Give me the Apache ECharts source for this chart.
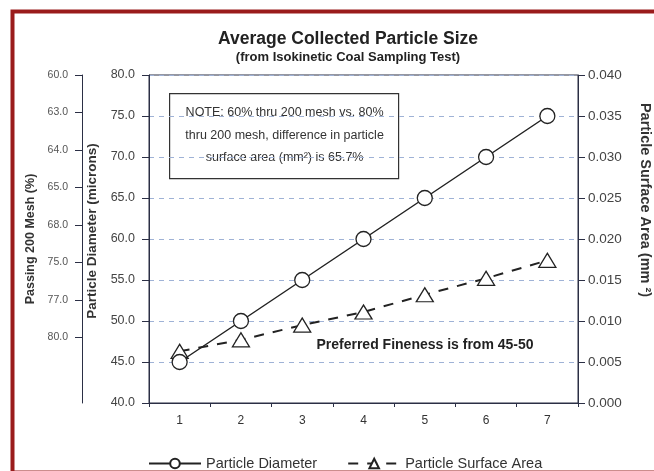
<!DOCTYPE html>
<html>
<head>
<meta charset="utf-8">
<script src="https://cdn.jsdelivr.net/npm/echarts@6/dist/echarts.min.js"></script>
<style>
html,body{margin:0;padding:0;background:#fff;}
#main{width:654px;height:471px;}
</style>
</head>
<body>
<div id="main"></div>
<script>
// x categories
var points = ['1', '2', '3', '4', '5', '6', '7'];
// particle diameter (microns)
var diameter = [45, 50, 55, 60, 65, 70, 75];
// particle surface area (mm2)
var surfaceArea = [0.0063, 0.0077, 0.0095, 0.0111, 0.0132, 0.0152, 0.0174];
// passing 200 mesh (%) tick labels, top to bottom
var meshLabels = ['60.0', '63.0', '64.0', '65.0', '68.0', '75.0', '77.0', '80.0'];
var meshIdx = meshLabels.map(function (l, i) { return i; });

var font = '"Liberation Sans", Arial, sans-serif';
var axisCol = '#2b2f45';

var chart = echarts.init(document.getElementById('main'));

var option = {
	backgroundColor: '#fff',
	animation: false,
	textStyle: { fontFamily: font },
	title: [{
		text: 'Average Collected Particle Size',
		left: 343,
		top: 25,
		textAlign: 'center',
		textStyle: { fontSize: 17.5, fontWeight: 'bold', color: '#222', fontFamily: font }
	}, {
		text: '(from Isokinetic Coal Sampling Test)',
		left: 343,
		top: 46,
		textAlign: 'center',
		textStyle: { fontSize: 13, fontWeight: 'bold', color: '#222', fontFamily: font }
	}],
	legend: {
		left: 143,
		top: 451,
		itemWidth: 52,
		itemHeight: 12,
		itemGap: 30,
		textStyle: { fontSize: 14.5, color: '#333', fontFamily: font },
		data: ['Particle Diameter', 'Particle Surface Area']
	},
	grid: {
		left: 149,
		right: 76,
		top: 75,
		bottom: 68,
		outerBoundsMode: 'none',
		containLabel: false,
		show: true,
		borderColor: axisCol,
		borderWidth: 1,
		backgroundColor: 'transparent'
	},
	xAxis: {
		type: 'category',
		data: points,
		boundaryGap: true,
		axisLine: { lineStyle: { color: axisCol, width: 1 } },
		axisTick: { show: true, length: 4, lineStyle: { color: axisCol } },
		axisLabel: { fontSize: 12, color: '#333', margin: 12 },
		splitLine: { show: false }
	},
	yAxis: [{
		type: 'value',
		position: 'left',
		min: 40,
		max: 80,
		interval: 5,
		name: 'Particle Diameter (microns)',
		nameLocation: 'middle',
		nameGap: 42,
		nameTextStyle: { fontSize: 13.5, fontWeight: 'bold', color: '#333', padding: [0, 0, 0, 16] },
		axisLine: { show: true, lineStyle: { color: axisCol } },
		axisTick: { show: true, length: 7, lineStyle: { color: axisCol } },
		axisLabel: { fontSize: 12.5, color: '#444', margin: 14, formatter: function (v) { return v.toFixed(1); } },
		splitLine: { show: true, lineStyle: { color: '#9fb2d6', type: [5, 5], width: 1 } }
	}, {
		type: 'value',
		position: 'right',
		min: 0,
		max: 0.04,
		interval: 0.005,
		name: 'Particle Surface Area (mm \u00b2)',
		nameLocation: 'middle',
		nameRotate: -90,
		nameGap: 59,
		nameTextStyle: { fontSize: 14.5, fontWeight: 'bold', color: '#333', padding: [0, 78, 0, 0] },
		axisLine: { show: true, lineStyle: { color: axisCol } },
		axisTick: { show: true, length: 7, lineStyle: { color: axisCol } },
		axisLabel: { fontSize: 13.5, color: '#444', margin: 10, formatter: function (v) { return v.toFixed(3); } },
		splitLine: { show: false }
	}, {
		type: 'value',
		position: 'left',
		offset: 67,
		min: 0,
		max: 8.75,
		interval: 1,
		inverse: true,
		name: 'Passing 200 Mesh (%)',
		nameLocation: 'middle',
		nameGap: 43,
		nameTextStyle: { fontSize: 12.5, fontWeight: 'bold', color: '#333' },
		axisLine: { show: true, lineStyle: { color: axisCol } },
		axisTick: { show: true, length: 7, customValues: meshIdx, lineStyle: { color: axisCol } },
		axisLabel: {
			fontSize: 10.5, color: '#555', margin: 14,
			customValues: meshIdx,
			formatter: function (v) { return meshLabels[Math.round(v)] || ''; }
		},
		splitLine: { show: false }
	}],
	series: [{
		name: 'Particle Diameter',
		type: 'line',
		yAxisIndex: 0,
		data: diameter,
		symbol: 'circle',
		symbolSize: 15,
		lineStyle: { color: '#222', width: 1.5 },
		itemStyle: { color: '#fff', borderColor: '#222', borderWidth: 1.3 },
		z: 3
	}, {
		name: 'Particle Surface Area',
		type: 'line',
		yAxisIndex: 1,
		data: surfaceArea,
		symbol: 'triangle',
		symbolSize: [17, 14],
		lineStyle: { color: '#222', width: 2, type: [10, 9] },
		itemStyle: { color: '#fff', borderColor: '#222', borderWidth: 1.3 },
		z: 2
	}],
	graphic: [{
		type: 'rect',
		left: 10,
		top: 9,
		shape: { x: 0, y: 0, width: 660, height: 461 },
		style: { fill: 'none', stroke: '#9a1c1c', lineWidth: 4 },
		silent: true,
		z: 100
	}, {
		type: 'group',
		left: 169,
		top: 93,
		z: 50,
		children: [{
			type: 'rect',
			shape: { x: 0, y: 0, width: 229, height: 85 },
			style: { fill: '#fff', stroke: '#333', lineWidth: 1.2 }
		}, {
			type: 'text',
			x: 115,
			y: 8,
			style: {
				text: 'NOTE: 60% thru 200 mesh vs. 80%\nthru 200 mesh, difference in particle\nsurface area (mm\u00b2) is 65.7%',
				align: 'center',
				verticalAlign: 'top',
				lineHeight: 22.5,
				fontSize: 12.5,
				fill: '#333',
				fontFamily: font
			}
		}]
	}, {
		type: 'text',
		x: 425,
		y: 345,
		z: 50,
		style: {
			text: 'Preferred Fineness is from 45-50',
			align: 'center',
			verticalAlign: 'middle',
			fontSize: 14,
			fontWeight: 'bold',
			fill: '#222',
			fontFamily: font
		}
	}]
};

chart.setOption(option);
</script>
</body>
</html>
